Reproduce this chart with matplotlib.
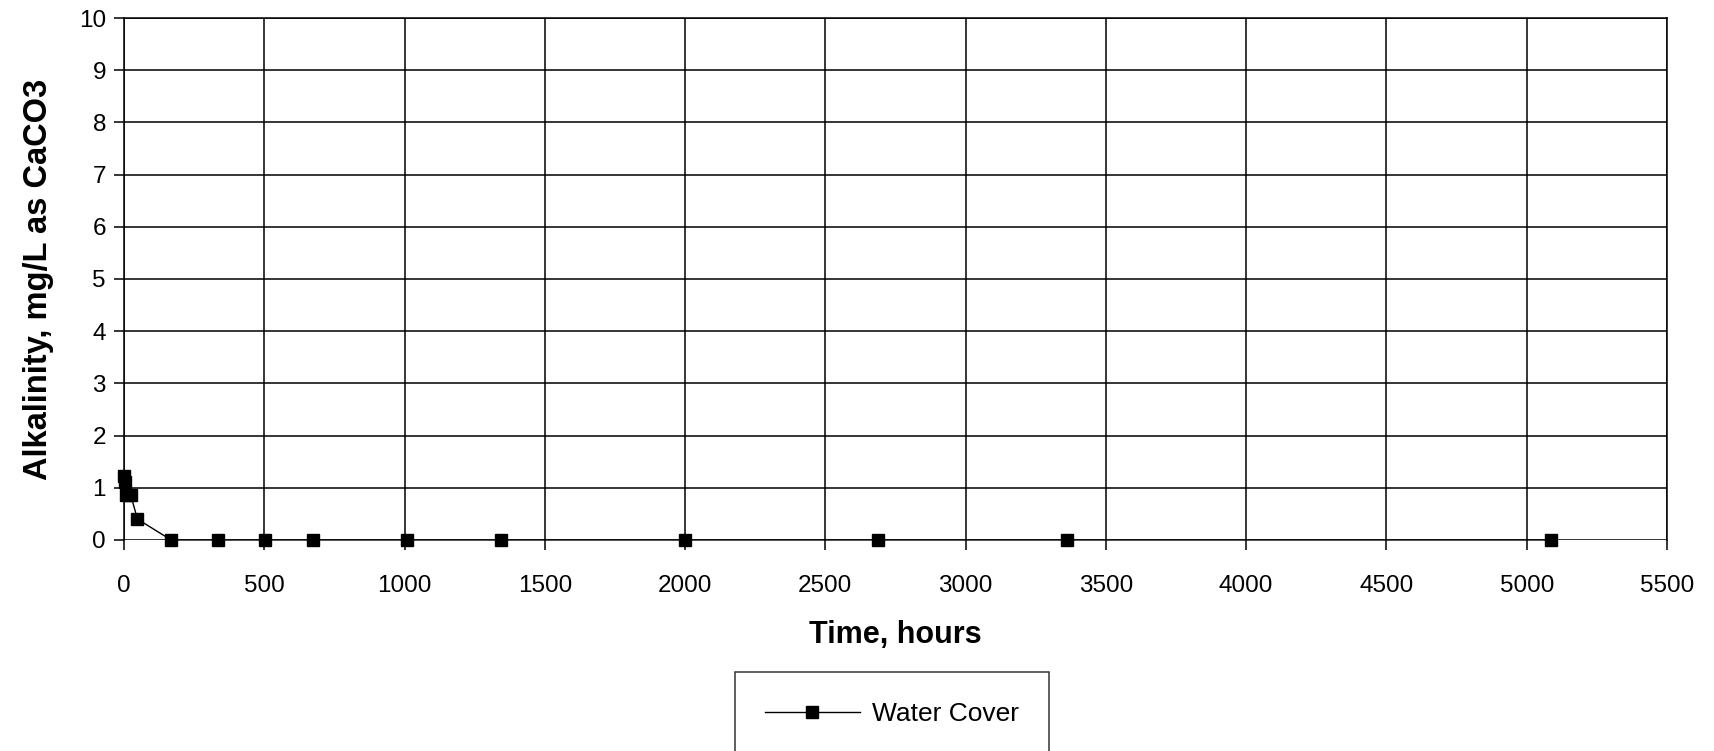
import numpy as np
import matplotlib.pyplot as plt

plt.rcParams['font.family'] = ['Liberation Sans', 'DejaVu Sans']

# sampling times (hours) and measured alkalinity
hours = [0, 2, 6, 24, 48, 168, 336, 504, 672, 1008, 1344, 2000, 2688, 3360, 5088]
alkalinity = [1.22, 1.12, 0.86, 0.86, 0.4, 0, 0, 0, 0, 0, 0, 0, 0, 0, 0]

x_ticks = np.arange(0, 5501, 500)
y_ticks = np.arange(0, 11, 1)

fig = plt.figure(figsize=(17.15, 7.51), dpi=100)
ax = fig.add_axes([0.0723, 0.281, 0.8997, 0.695])

ax.plot(hours, alkalinity, color='black', lw=1.0, marker='s', markersize=8,
        markerfacecolor='black', markeredgecolor='black', label='Water Cover',
        zorder=3, clip_on=False)

ax.set_xlim(0, 5500)
ax.set_ylim(0, 10)
ax.set_xticks(x_ticks)
ax.set_yticks(y_ticks)
ax.grid(True, color='black', lw=1.1)
ax.set_axisbelow(True)
for s in ax.spines.values():
    s.set_linewidth(1.1)
ax.spines['bottom'].set_visible(False)
ax.tick_params(direction='out', length=7, width=1.1, labelsize=17.5, pad=6)
ax.tick_params(axis='x', pad=18)

ax.set_xlabel('Time, hours', fontsize=22, fontweight='bold', labelpad=17)
ax.set_ylabel('Alkalinity, mg/L as CaCO3', fontsize=23.5, fontweight='bold', labelpad=18)

leg = fig.legend(loc='upper center', bbox_to_anchor=(0.520, 0.1052), fontsize=19,
                 frameon=True, fancybox=False, edgecolor='black', handlelength=3.6,
                 borderpad=1.15, borderaxespad=0, handletextpad=0.45)
leg.get_frame().set_linewidth(1.1)

fig.savefig('out.png', dpi=100)
